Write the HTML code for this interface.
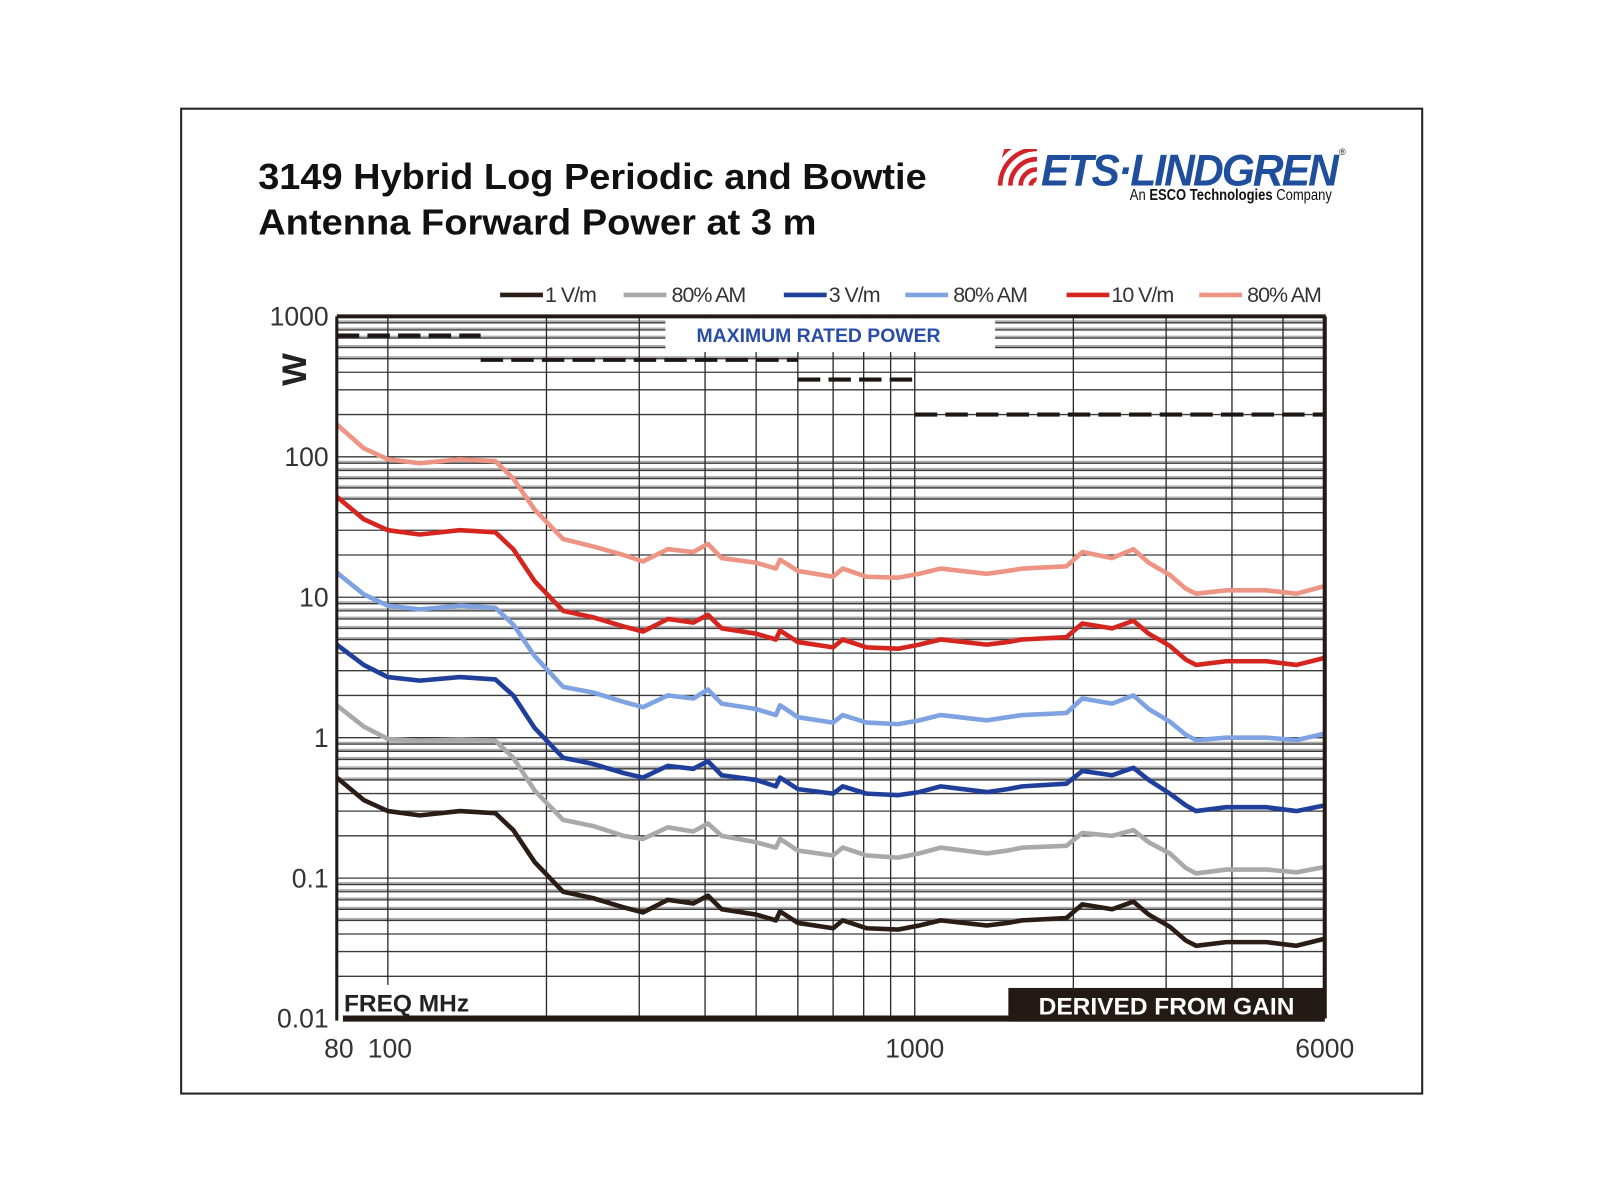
<!DOCTYPE html>
<html><head><meta charset="utf-8"><style>
html,body{margin:0;padding:0;background:#fff;}
svg{display:block;font-family:"Liberation Sans",Arial,sans-serif;}
</style></head><body>
<svg id="chart" width="1600" height="1200" viewBox="0 0 1600 1200">
<g transform="scale(1.0206)">
<rect x="177.5" y="106.5" width="1216" height="965" fill="#fff" stroke="#222" stroke-width="2"/>
<text x="253" y="185" font-size="35" font-weight="bold" fill="#111" textLength="655" lengthAdjust="spacingAndGlyphs">3149 Hybrid Log Periodic and Bowtie</text>
<text x="253" y="230" font-size="35" font-weight="bold" fill="#111" textLength="547" lengthAdjust="spacingAndGlyphs">Antenna Forward Power at 3 m</text>
<g>
  <defs><clipPath id="lc"><polygon points="984,146 1024,146 1014,182 974,182"/></clipPath></defs>
  <g clip-path="url(#lc)" fill="none" stroke="#d2232a" stroke-width="4.5">
    <path d="M970 182 a46 46 0 0 1 46-46"/>
    <path d="M980 182 a36 36 0 0 1 36-36"/>
    <path d="M990 182 a26 26 0 0 1 26-26"/>
    <path d="M1000 182 a16 16 0 0 1 16-16"/>
    <path d="M1010 182 a6 6 0 0 1 6-6"/>
  </g>
  <text x="1020" y="182" font-size="44" font-weight="bold" font-style="italic" fill="#1f4e9c" letter-spacing="-2" textLength="290" lengthAdjust="spacingAndGlyphs">ETS·LINDGREN</text>
  <text x="1107" y="196" font-size="15" fill="#111" textLength="198" lengthAdjust="spacingAndGlyphs">An <tspan font-weight="bold">ESCO Technologies</tspan> Company</text>
  <text x="1312" y="152" font-size="9" fill="#111">®</text>
</g>
<g id="legend"></g>
<g id="grid"></g>
<rect x="652" y="312" width="323" height="33" fill="#fff"/>
<text x="802" y="335" font-size="19" font-weight="bold" fill="#2a4ea8" text-anchor="middle">MAXIMUM RATED POWER</text>
<g id="maxpower"></g>
<g id="series"></g>
<rect x="333" y="965" width="150" height="30" fill="#fff"/>
<g id="axes"></g>
<text x="337" y="991" font-size="24" font-weight="bold" fill="#222">FREQ MHz</text>
<rect x="988" y="968" width="310" height="33" fill="#231a16"/>
<text x="1143" y="994" font-size="24" font-weight="bold" fill="#fff" text-anchor="middle">DERIVED FROM GAIN</text>
<text x="300" y="362" font-size="34" font-weight="bold" fill="#222" text-anchor="middle" transform="rotate(-90 300 362)">W</text>
</g>
</svg>
<script>
const freqs=[80,90,100,115,137,160,173,190,215,245,280,305,340,380,405,430,500,545,555,600,700,730,810,930,1020,1120,1370,1500,1600,1940,2080,2370,2600,2780,3050,3270,3420,3900,4650,5300,6000];
const v1=[0.52,0.36,0.30,0.28,0.30,0.29,0.22,0.13,0.08,0.072,0.062,0.057,0.07,0.066,0.075,0.06,0.055,0.05,0.058,0.048,0.044,0.05,0.044,0.043,0.046,0.05,0.046,0.048,0.05,0.052,0.065,0.06,0.068,0.055,0.045,0.036,0.033,0.035,0.035,0.033,0.037];
const v1am=[1.7,1.2,0.98,0.95,0.97,0.95,0.72,0.42,0.26,0.235,0.2,0.19,0.23,0.215,0.245,0.2,0.18,0.165,0.19,0.157,0.145,0.165,0.145,0.14,0.15,0.165,0.15,0.157,0.165,0.17,0.21,0.2,0.22,0.18,0.15,0.118,0.108,0.115,0.115,0.11,0.12];
const v3=[4.6,3.3,2.7,2.55,2.7,2.6,2.0,1.17,0.72,0.65,0.56,0.52,0.63,0.6,0.68,0.54,0.5,0.45,0.52,0.43,0.4,0.45,0.4,0.39,0.41,0.45,0.41,0.43,0.45,0.47,0.58,0.54,0.61,0.5,0.4,0.33,0.3,0.32,0.32,0.3,0.33];
const v3am=[15,10.5,8.7,8.2,8.7,8.4,6.4,3.8,2.3,2.1,1.8,1.65,2.0,1.9,2.2,1.75,1.6,1.45,1.7,1.4,1.28,1.45,1.28,1.25,1.33,1.45,1.33,1.4,1.45,1.5,1.9,1.75,2.0,1.6,1.3,1.05,0.96,1.0,1.0,0.96,1.07];
const v10=[52,36,30,28,30,29,22,13,8,7.2,6.2,5.7,7,6.6,7.5,6,5.5,5,5.8,4.8,4.4,5,4.4,4.3,4.6,5,4.6,4.8,5,5.2,6.5,6,6.8,5.5,4.5,3.6,3.3,3.5,3.5,3.3,3.7];
const v10am=[170,115,96,90,96,93,70,42,26,23,20,18,22,21,24,19,17.6,16,18.5,15.4,14,16,14,13.8,14.7,16,14.7,15.4,16,16.6,21,19,22,17.6,14.4,11.5,10.6,11.2,11.2,10.6,12];
const seriesNames=["1 V/m","80% AM","3 V/m","80% AM","10 V/m","80% AM"];
const maxStart=[80,150,600,1000];
const maxEnd=[150,600,1000,6000];
const maxVal=[730,490,355,200];
const xTickLabels=["80","100","1000","6000"];
const xTickVals=[80,100,1000,6000];
const yTickVals=[1000,100,10,1,0.1,0.01];
const yTickLabels=["1000","100","10","1","0.1","0.01"];
const gridFreqs=[100,200,300,400,500,600,700,800,900,1000,2000,3000,4000,5000];

const NS="http://www.w3.org/2000/svg";
const X0=330,X1=1298,Y0=998,Y1=310;
function xs(f){return X0+(Math.log10(f)-Math.log10(80))/(Math.log10(6000)-Math.log10(80))*(X1-X0);}
function ys(v){return Y0-(Math.log10(v)+2)/5*(Y0-Y1);}
function mk(tag,attrs,parent){const e=document.createElementNS(NS,tag);for(const k in attrs)e.setAttribute(k,attrs[k]);parent.appendChild(e);return e;}
const grid=document.getElementById('grid');
for(let d=-2;d<3;d++){for(let m=1;m<10;m++){const v=m*Math.pow(10,d);if(v<=0.01)continue;const y=ys(v);
  if(m>=5){const b=mk('line',{x1:X0,x2:X1,y1:y-1.5,y2:y-1.5,stroke:'#b0b0b0','stroke-width':2},grid);
  
  }
  const l=mk('line',{x1:X0,x2:X1,y1:y,y2:y,stroke:'#3a3a3a','stroke-width':1.3},grid);
  
  }}
gridFreqs.forEach(f=>{const x=xs(f);const l=mk('line',{x1:x,x2:x,y1:Y1,y2:Y0,stroke:'#2a2a2a','stroke-width':1.3},grid);
  
  });
const mp=document.getElementById('maxpower');
maxVal.forEach((v,i)=>{const l=mk('line',{x1:xs(maxStart[i]),x2:xs(maxEnd[i]),y1:ys(v),y2:ys(v),stroke:'#1e1612','stroke-width':4,'stroke-dasharray':'22 8'},mp);
  
  });
const colors=['#2b1d16','#a9a9a9','#1f3f9a','#7fa2e2','#d4261f','#ee9484'];
const data=[v1,v1am,v3,v3am,v10,v10am];
const sg=document.getElementById('series');
[5,4,3,2,1,0].forEach(i=>{const pts=freqs.map((f,j)=>xs(f).toFixed(1)+','+ys(data[i][j]).toFixed(1)).join(' ');
  const p=mk('polyline',{points:pts,fill:'none',stroke:colors[i],'stroke-width':4.5,'stroke-linejoin':'round'},sg);
  
  });
const ax=document.getElementById('axes');
const t=mk('line',{x1:X0,x2:X1+1,y1:Y1,y2:Y1,stroke:'#231a16','stroke-width':4},ax);

const r=mk('line',{x1:X1,x2:X1,y1:Y1,y2:Y0,stroke:'#231a16','stroke-width':4},ax);

const lft=mk('line',{x1:X0,x2:X0,y1:Y1,y2:Y0+2,stroke:'#231a16','stroke-width':3},ax);

const bt=mk('line',{x1:X0+6,x2:X1,y1:Y0,y2:Y0,stroke:'#231a16','stroke-width':6},ax);

yTickVals.forEach((v,i)=>{const e=mk('text',{x:322,y:ys(v)+9,'font-size':26,fill:'#333','text-anchor':'end'},ax);e.textContent=yTickLabels[i];
  
  });
xTickVals.forEach((v,i)=>{let x=xs(v);if(v===80){x=x+2;}if(v===100){x+=2;}
  const e=mk('text',{x:x,y:1036,'font-size':26,fill:'#333','text-anchor':'middle'},ax);e.textContent=xTickLabels[i];
  
  });
const lg=document.getElementById('legend');
const lx=[490,611,768,887,1045,1175];
seriesNames.forEach((n,i)=>{const l=mk('line',{x1:lx[i],x2:lx[i]+42,y1:289,y2:289,stroke:colors[i],'stroke-width':4.5},lg);
  
  
  const e=mk('text',{x:lx[i]+(i%2?47:44),y:296,'font-size':21,fill:'#333','letter-spacing':'-1'},lg);e.textContent=n;
  
  });
</script>
</body></html>
